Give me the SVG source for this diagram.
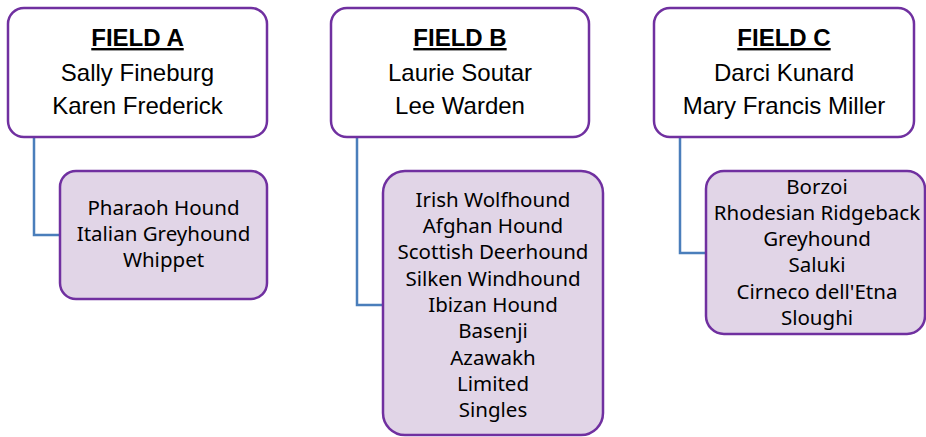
<svg xmlns="http://www.w3.org/2000/svg" width="926" height="437" viewBox="0 0 926 437">
<style>
.box{fill:#ffffff;stroke:#7030a0;stroke-width:2.5}
.sub{fill:#e1d5e7;stroke:#7030a0;stroke-width:2.5}
.con{fill:none;stroke:#4a7ebb;stroke-width:2.5}
.hd{font-family:"Liberation Sans",Arial,sans-serif;font-size:24px;font-weight:bold;text-decoration:underline;fill:#000;text-anchor:middle}
.nm{font-family:"Liberation Sans",Arial,sans-serif;font-size:24px;fill:#000;text-anchor:middle}
.ls{font-family:"Noto Sans","Open Sans",sans-serif;font-size:20.5px;fill:#000;text-anchor:middle}
</style>
<rect width="926" height="437" fill="#ffffff"/>
<g id="connectors">
<path class="con" d="M34,137 V235 H60"/>
<path class="con" d="M357,137 V305 H383"/>
<path class="con" d="M680,137 V253 H706"/>
</g>
<g id="fieldA">
<rect class="box" x="8" y="8" width="259" height="129" rx="16"/>
<text class="hd" x="137.5" y="46">FIELD A</text>
<text class="nm" x="137.5" y="81">Sally Fineburg</text>
<text class="nm" x="137.5" y="114">Karen Frederick</text>
</g>
<g id="listA">
<rect class="sub" x="60" y="171" width="207" height="128" rx="16"/>
<text class="ls" x="163.5" y="215">Pharaoh Hound</text>
<text class="ls" x="163.5" y="241">Italian Greyhound</text>
<text class="ls" x="163.5" y="267">Whippet</text>
</g>
<g id="fieldB">
<rect class="box" x="331" y="8" width="258" height="129" rx="16"/>
<text class="hd" x="460" y="46">FIELD B</text>
<text class="nm" x="460" y="81">Laurie Soutar</text>
<text class="nm" x="460" y="114">Lee Warden</text>
</g>
<g id="listB">
<rect class="sub" x="383" y="171" width="220" height="264" rx="22"/>
<text class="ls" x="493" y="207">Irish Wolfhound</text>
<text class="ls" x="493" y="233">Afghan Hound</text>
<text class="ls" x="493" y="259">Scottish Deerhound</text>
<text class="ls" x="493" y="286">Silken Windhound</text>
<text class="ls" x="493" y="312">Ibizan Hound</text>
<text class="ls" x="493" y="338">Basenji</text>
<text class="ls" x="493" y="365">Azawakh</text>
<text class="ls" x="493" y="391">Limited</text>
<text class="ls" x="493" y="417">Singles</text>
</g>
<g id="fieldC">
<rect class="box" x="654" y="8" width="260" height="129" rx="16"/>
<text class="hd" x="784" y="46">FIELD C</text>
<text class="nm" x="784" y="81">Darci Kunard</text>
<text class="nm" x="784" y="114">Mary Francis Miller</text>
</g>
<g id="listC">
<rect class="sub" x="706" y="171" width="219" height="163" rx="18"/>
<text class="ls" x="817" y="194">Borzoi</text>
<text class="ls" x="817" y="220">Rhodesian Ridgeback</text>
<text class="ls" x="817" y="246">Greyhound</text>
<text class="ls" x="817" y="272">Saluki</text>
<text class="ls" x="817" y="299">Cirneco dell'Etna</text>
<text class="ls" x="817" y="325">Sloughi</text>
</g>
</svg>
